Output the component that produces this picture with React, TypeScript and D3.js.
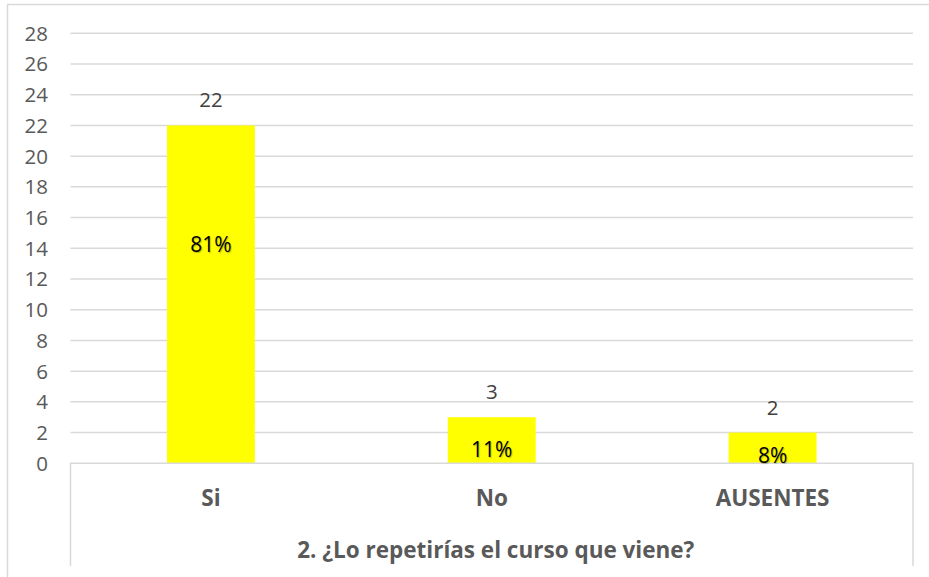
import * as d3 from 'd3'

const categories = ['Si', 'No', 'AUSENTES']
const counts = [22, 3, 2]
const percentLabels = ['81%', '11%', '8%']
// baseline of the percent labels, in axis units (they were placed by hand in the original)
const percentLabelAt = [13.75, 0.4, 0.02]
const yTicks = [0, 2, 4, 6, 8, 10, 12, 14, 16, 18, 20, 22, 24, 26, 28]
const title = '2. ¿Lo repetirías el curso que viene?'

const W = 929
const H = 577
const FONT = '"Open Sans", "Liberation Sans", sans-serif'

export default function App() {
  const margin = { top: 33.3, left: 70.5, right: 16, bottom: 113.7 }
  const plotRight = W - margin.right
  const plotBottom = H - margin.bottom

  const x = d3
    .scaleBand()
    .domain(categories)
    .range([margin.left, plotRight])
    .paddingInner(0.687)
    .paddingOuter(0.3435)

  const y = d3.scaleLinear().domain([0, 28]).range([plotBottom, margin.top])

  const axisBottom = 566
  const mid = (c: string) => (x(c) ?? 0) + x.bandwidth() / 2

  return (
    <svg
      width={W}
      height={H}
      style={{ position: 'absolute', left: 0, top: 0, display: 'block', background: '#fff' }}
    >
      {/* chart frame */}
      <path d={`M7.5,${H} V4.5 H${W}`} fill="none" stroke="#d9d9d9" strokeWidth={1.5} />

      {/* gridlines */}
      {yTicks.slice(1).map((t) => (
        <line
          key={t}
          x1={margin.left}
          x2={plotRight}
          y1={y(t)}
          y2={y(t)}
          stroke="#d9d9d9"
          strokeWidth={1.5}
        />
      ))}

      {/* y tick labels */}
      {yTicks.map((t) => (
        <text
          key={t}
          x={48}
          y={y(t)}
          dy="0.36em"
          textAnchor="end"
          fontFamily={FONT}
          fontSize={20.5}
          fill="#595959"
        >
          {t}
        </text>
      ))}

      {/* bars */}
      {categories.map((c, i) => (
        <rect
          key={c}
          x={x(c)}
          y={y(counts[i])}
          width={x.bandwidth()}
          height={y(0) - y(counts[i])}
          fill="#ffff00"
        />
      ))}

      {/* category axis box */}
      <path
        d={`M${margin.left},${axisBottom} V${plotBottom} H${plotRight} V${axisBottom}`}
        fill="none"
        stroke="#d9d9d9"
        strokeWidth={1.5}
      />

      {/* value labels */}
      {categories.map((c, i) => (
        <text
          key={c}
          x={mid(c)}
          y={y(counts[i]) - 18}
          textAnchor="middle"
          fontFamily={FONT}
          fontSize={20.5}
          fill="#404040"
        >
          {counts[i]}
        </text>
      ))}

      {/* percent labels */}
      {categories.map((c, i) => (
        <text
          key={c}
          x={mid(c)}
          y={y(percentLabelAt[i])}
          textAnchor="middle"
          fontFamily={FONT}
          fontSize={21}
          fill="#000"
          style={{ textShadow: '1px 1px 1px rgba(0,0,0,0.25)' }}
        >
          {percentLabels[i]}
        </text>
      ))}

      {/* category labels */}
      {categories.map((c) => (
        <text
          key={c}
          x={mid(c)}
          y={506}
          textAnchor="middle"
          fontFamily={FONT}
          fontSize={22.5}
          fontWeight={700}
          fill="#595959"
        >
          {c}
        </text>
      ))}

      {/* axis title */}
      <text
        x={(margin.left + plotRight) / 2 + 4}
        y={558}
        textAnchor="middle"
        fontFamily={FONT}
        fontSize={22.5}
        fontWeight={700}
        fill="#595959"
      >
        {title}
      </text>
    </svg>
  )
}
